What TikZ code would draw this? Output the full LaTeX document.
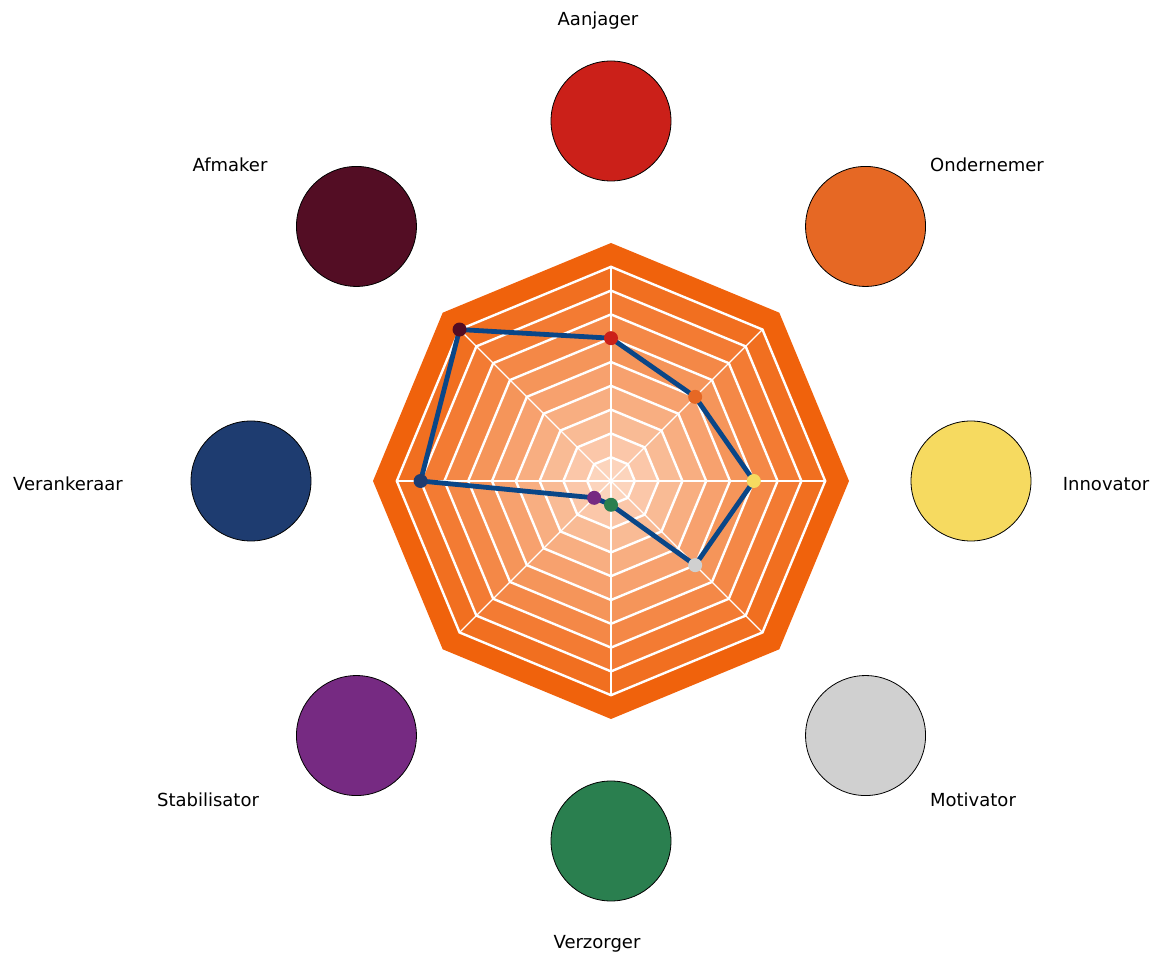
\documentclass[tikz,border=0pt]{standalone}
\usepackage{fontspec}
\setmainfont{DejaVu Sans}
\usetikzlibrary{calc}
\definecolor{outerc}{RGB}{240,98,12}
\definecolor{innerc}{RGB}{252,212,188}
\definecolor{cAanjager}{RGB}{203,32,25}
\definecolor{cOndernemer}{RGB}{230,104,36}
\definecolor{cInnovator}{RGB}{246,218,96}
\definecolor{cMotivator}{RGB}{208,208,208}
\definecolor{cVerzorger}{RGB}{42,127,79}
\definecolor{cStabilisator}{RGB}{118,42,130}
\definecolor{cVerankeraar}{RGB}{30,60,112}
\definecolor{cAfmaker}{RGB}{83,13,36}
\definecolor{dataline}{RGB}{10,70,135}
\tikzset{
  role/.style={circle, draw=black, line width=0.8pt, minimum size=120pt, inner sep=0pt},
  lbl/.style={font=\fontsize{18}{21}\selectfont, text=black, inner sep=0pt},
  mk/.style={circle, minimum size=14pt, inner sep=0pt},
  ring/.style={draw=white, line width=2.4pt, line join=miter},
  spoke/.style={draw=white, line width=1.3pt},
  dline/.style={draw=dataline, line width=4.8pt, line join=round},
}
\begin{document}
\begin{tikzpicture}[x=1pt,y=1pt]
\useasboundingbox (0,0) rectangle (1157,956);
\coordinate (C) at (611,475);
% filled bands
\foreach \k in {10,9,...,1}{
  \pgfmathsetmacro{\p}{(\k-1)*100/9}
  \pgfmathsetmacro{\r}{23.8*\k}
  \fill[outerc!\p!innerc] ($(C)+(90:\r)$) \foreach \a in {45,0,-45,-90,-135,180,135}{ -- ($(C)+(\a:\r)$)} -- cycle;
}
% spokes
\foreach \a in {90,45,0,-45,-90,-135,180,135}{
  \draw[spoke] (C) -- ($(C)+(\a:214.2)$);
}
% ring lines
\foreach \k in {1,...,9}{
  \pgfmathsetmacro{\r}{23.8*\k}
  \draw[ring] ($(C)+(90:\r)$) \foreach \a in {45,0,-45,-90,-135,180,135}{ -- ($(C)+(\a:\r)$)} -- cycle;
}
% role circles
\node[role, fill=cAanjager] (nA) at ($(C)+(90:360)$) {};
\node[role, fill=cOndernemer] (nO) at ($(C)+(45:360)$) {};
\node[role, fill=cInnovator] (nI) at ($(C)+(0:360)$) {};
\node[role, fill=cMotivator] (nM) at ($(C)+(-45:360)$) {};
\node[role, fill=cVerzorger] (nV) at ($(C)+(-90:360)$) {};
\node[role, fill=cStabilisator] (nS) at ($(C)+(-135:360)$) {};
\node[role, fill=cVerankeraar] (nR) at ($(C)+(180:360)$) {};
\node[role, fill=cAfmaker] (nF) at ($(C)+(135:360)$) {};
% labels
\node[lbl] (tA) at (598,935) {Aanjager};
\node[lbl] (tO) at (987,791) {Ondernemer};
\node[lbl] (tI) at (1106,472) {Innovator};
\node[lbl] (tM) at (973,156) {Motivator};
\node[lbl] (tV) at (597,12) {Verzorger};
\node[lbl] (tS) at (208,156) {Stabilisator};
\node[lbl] (tR) at (68,472) {Verankeraar};
\node[lbl] (tF) at (230,791) {Afmaker};
% data
\coordinate (dA) at ($(C)+(90:142.8)$);
\coordinate (dO) at ($(C)+(45:119)$);
\coordinate (dI) at ($(C)+(0:142.8)$);
\coordinate (dM) at ($(C)+(-45:119)$);
\coordinate (dV) at ($(C)+(-90:23.8)$);
\coordinate (dS) at ($(C)+(-135:23.8)$);
\coordinate (dR) at ($(C)+(180:190.4)$);
\coordinate (dF) at ($(C)+(135:214.2)$);
\draw[dline] (dA) -- (dO) -- (dI) -- (dM) -- (dV) -- (dS) -- (dR) -- (dF) -- cycle;
\node[mk, fill=cAanjager] (mA) at (dA) {};
\node[mk, fill=cOndernemer] (mO) at (dO) {};
\node[mk, fill=cInnovator] (mI) at (dI) {};
\node[mk, fill=cMotivator] (mM) at (dM) {};
\node[mk, fill=cVerzorger] (mV) at (dV) {};
\node[mk, fill=cStabilisator] (mS) at (dS) {};
\node[mk, fill=cVerankeraar] (mR) at (dR) {};
\node[mk, fill=cAfmaker] (mF) at (dF) {};
\end{tikzpicture}
\end{document}
